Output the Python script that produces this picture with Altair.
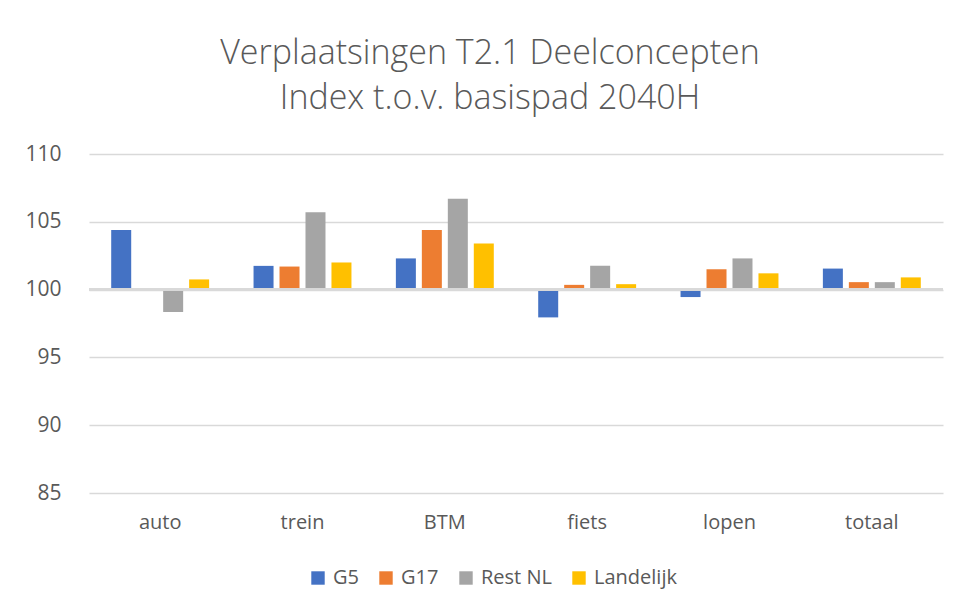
import altair as alt
import pandas as pd

categories = ["auto", "trein", "BTM", "fiets", "lopen", "totaal"]
series = ["G5", "G17", "Rest NL", "Landelijk"]
colors = ["#4472C4", "#ED7D31", "#A5A5A5", "#FFC000"]

g5 = [104.4, 101.75, 102.3, 97.95, 99.45, 101.55]
g17 = [None, 101.7, 104.4, 100.35, 101.5, 100.55]
rest_nl = [98.35, 105.7, 106.7, 101.75, 102.3, 100.55]
landelijk = [100.75, 102.0, 103.4, 100.4, 101.2, 100.9]

values = {"G5": g5, "G17": g17, "Rest NL": rest_nl, "Landelijk": landelijk}
rows = []
for s in series:
    for c, v in zip(categories, values[s]):
        rows.append({"categorie": c, "reeks": s, "waarde": v})
df = pd.DataFrame(rows)

FONT = "Open Sans"
TXT = "#595959"

bars = alt.Chart(df).mark_bar().encode(
    x=alt.X("categorie:N", sort=categories,
            scale=alt.Scale(paddingInner=0.312, paddingOuter=0.156),
            axis=alt.Axis(title=None, labelAngle=0, domain=False, ticks=False,
                          labelFontSize=20, labelColor=TXT, labelFont=FONT,
                          labelPadding=19)),
    xOffset=alt.XOffset("reeks:N", sort=series,
                        scale=alt.Scale(paddingInner=0.23, paddingOuter=0)),
    y=alt.Y("waarde:Q",
            scale=alt.Scale(domain=[85, 110], nice=False, zero=False),
            axis=alt.Axis(title=None, values=[85, 90, 95, 100, 105, 110],
                          domain=False, ticks=False, labelFontSize=21,
                          labelColor=TXT, labelFont=FONT, labelPadding=28,
                          gridColor="#d9d9d9", gridWidth=1.5)),
    y2=alt.datum(100),
    color=alt.Color("reeks:N", sort=series,
                    scale=alt.Scale(domain=series, range=colors),
                    legend=alt.Legend(title=None, orient="none", direction="horizontal",
                                      legendX=219, legendY=414,
                                      symbolType="square", symbolSize=180,
                                      symbolStrokeWidth=0, labelFontSize=20,
                                      labelColor=TXT, labelFont=FONT,
                                      labelOffset=5, columnPadding=17)),
)

axis100 = alt.Chart(df).mark_rule(color="#d9d9d9", strokeWidth=2.5).encode(
    y=alt.datum(100)
)

chart = alt.layer(bars, axis100).properties(
    width=854,
    height=339,
    padding={"left": 81, "top": 146, "right": 9, "bottom": 106},
    autosize=alt.AutoSizeParams(type="none"),
    title=alt.TitleParams(
        ["Verplaatsingen T2.1 Deelconcepten", "Index t.o.v. basispad 2040H"],
        fontSize=34, font=FONT, fontWeight=300, color=TXT,
        anchor="middle", dx=-26, offset=27, lineHeight=45,
    ),
).configure_view(stroke=None)

chart.save("out.html", embed_options={"renderer": "svg", "actions": False})
